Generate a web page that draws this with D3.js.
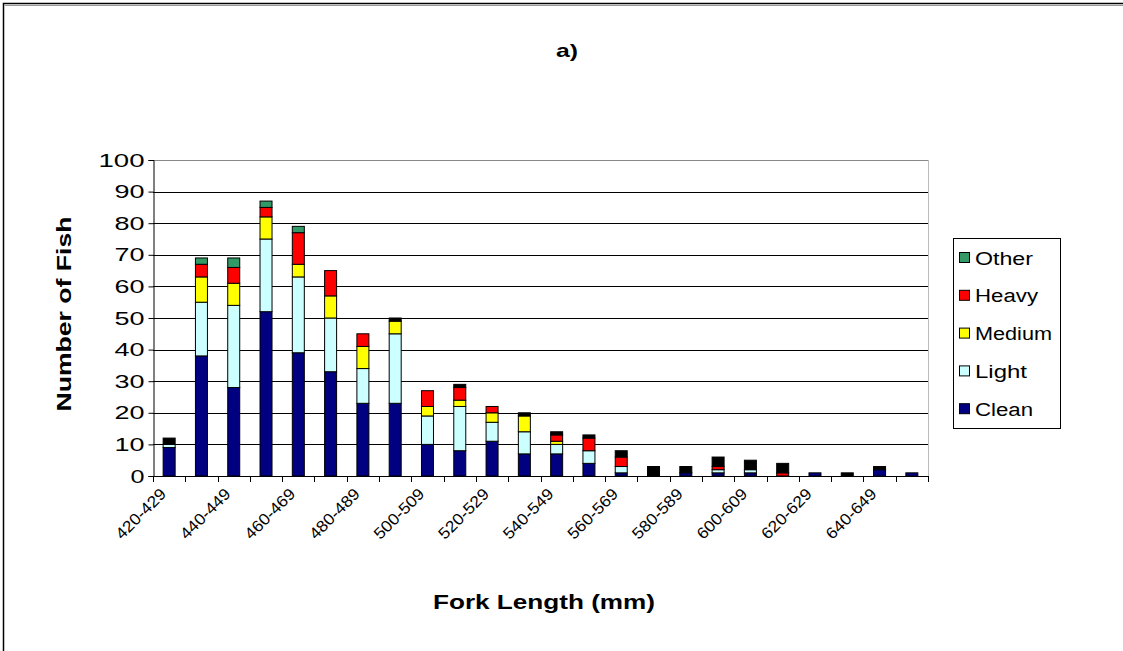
<!DOCTYPE html>
<html>
<head>
<meta charset="utf-8">
<script src="https://cdn.jsdelivr.net/npm/d3@7"></script>
<style>
  html, body { margin: 0; padding: 0; background: #fff; }
  svg { display: block; font-family: Arial, "Liberation Sans", sans-serif; }
</style>
</head>
<body>
<svg id="chart" width="1123" height="651"></svg>
<script>
// ---- Data ----
const categories = ["420-429","430-439","440-449","450-459","460-469","470-479","480-489","490-499",
  "500-509","510-519","520-529","530-539","540-549","550-559","560-569","570-579","580-589",
  "590-599","600-609","610-619","620-629","630-639","640-649","650-659"];
const clean      = [9, 38, 28, 52, 39, 33, 23, 23, 10, 8, 11, 7, 7, 4, 1, 0, 1, 1, 1, 0, 1, 0, 2, 1];
const light      = [1, 17, 26, 23, 24, 17, 11, 22, 9, 14, 6, 7, 3, 4, 2, 0, 0, 1, 1, 0, 0, 0, 0, 0];
const medium     = [0, 8, 7, 7, 4, 7, 7, 4, 3, 2, 3, 5, 1, 0, 0, 0, 0, 0, 0, 0, 0, 0, 0, 0];
const heavy      = [0, 4, 5, 3, 10, 8, 4, 0, 5, 4, 2, 0, 2, 4, 3, 0, 0, 1, 0, 1, 0, 0, 0, 0];
const other      = [0, 2, 3, 2, 2, 0, 0, 0, 0, 0, 0, 0, 0, 0, 0, 0, 0, 0, 0, 0, 0, 0, 0, 0];
const unrecorded = [2, 0, 0, 0, 0, 0, 0, 1, 0, 1, 0, 1, 1, 1, 2, 3, 2, 3, 3, 3, 0, 1, 1, 0];
const yTicks = [0,10,20,30,40,50,60,70,80,90,100];
const legendOrder = ["Other","Heavy","Medium","Light","Clean"];

const seriesKeys = ["Clean","Light","Medium","Heavy","Other","Unrecorded"];
const colors = {Clean:"#000080", Light:"#CCFFFF", Medium:"#FFFF00", Heavy:"#FF0000", Other:"#339966", Unrecorded:"#000000"};
const table = categories.map((c,i) => ({cat:c, Clean:clean[i], Light:light[i], Medium:medium[i], Heavy:heavy[i], Other:other[i], Unrecorded:unrecorded[i]}));

(function(){
const svg = d3.select("#chart");

// outer frame
svg.append("rect").attr("x",3.5).attr("y",3.5).attr("width",1140).attr("height",660)
  .attr("fill","none").attr("stroke","#000").attr("stroke-width",1.5);
svg.append("line").attr("x1",5).attr("x2",1123).attr("y1",5.5).attr("y2",5.5).attr("stroke","#999");

const pL = 153, pR = 928, pT = 160, pB = 476;
const x = d3.scaleBand().domain(categories).range([pL, pR]).padding(0);
const y = d3.scaleLinear().domain([0,100]).range([pB, pT]);
const barW = 12;

// gridlines
svg.append("g").selectAll("line").data(yTicks.filter(t => t>0)).join("line")
  .attr("x1", pL).attr("x2", pR)
  .attr("y1", d => Math.round(y(d))+0.5).attr("y2", d => Math.round(y(d))+0.5)
  .attr("stroke", d => d===100 ? "#888" : "#000").attr("stroke-width",1);
svg.append("line").attr("x1",pR+0.5).attr("x2",pR+0.5).attr("y1",pT).attr("y2",pB)
  .attr("stroke","#bbb");

// bars
const stack = d3.stack().keys(seriesKeys)(table);
svg.append("g").selectAll("g").data(stack).join("g")
  .attr("fill", d => colors[d.key])
  .selectAll("rect").data(d => d.filter(p => p[1]-p[0] > 0)).join("rect")
  .attr("x", d => x(d.data.cat) + x.bandwidth()/2 - barW/2)
  .attr("width", barW)
  .attr("y", d => y(d[1]))
  .attr("height", d => y(d[0]) - y(d[1]))
  .attr("stroke","#000").attr("stroke-width",1);

// y axis
const yAxis = d3.axisLeft(y).tickValues(yTicks).tickSize(5).tickPadding(4);
const gy = svg.append("g").attr("transform",`translate(${pL+0.5},0)`).call(yAxis);
gy.select(".domain").attr("stroke","#000");
gy.selectAll(".tick line").attr("stroke","#000");
gy.selectAll(".tick text").attr("font-size",19).attr("fill","#000")
  .attr("font-family","Arial, 'Liberation Sans', sans-serif")
  .attr("textLength", d => String(d).length*16 - 2).attr("lengthAdjust","spacingAndGlyphs");

// x axis line + ticks at boundaries
svg.append("line").attr("x1",pL).attr("x2",pR).attr("y1",pB+0.5).attr("y2",pB+0.5).attr("stroke","#000");
const bounds = categories.map(c => x(c)).concat([x(categories[categories.length-1]) + x.bandwidth()]);
svg.append("g").selectAll("line").data(bounds).join("line")
  .attr("x1", d => Math.round(d)+0.5).attr("x2", d => Math.round(d)+0.5)
  .attr("y1", pB).attr("y2", pB+6).attr("stroke","#000");

// x labels every other category
svg.append("g").selectAll("text").data(categories.filter((c,i) => i%2===0)).join("text")
  .attr("transform", d => `translate(${x(d)+x.bandwidth()/2-2},${pB+19}) rotate(-45)`)
  .attr("text-anchor","end").attr("font-size",16).attr("fill","#000")
  .attr("textLength",64).attr("lengthAdjust","spacingAndGlyphs")
  .text(d => d);

// titles
svg.append("text").attr("x",567).attr("y",57).attr("text-anchor","middle")
  .attr("font-size",19).attr("font-weight","bold")
  .attr("textLength",22).attr("lengthAdjust","spacingAndGlyphs").text("a)");
svg.append("text").attr("x",544).attr("y",609).attr("text-anchor","middle")
  .attr("font-size",20).attr("font-weight","bold")
  .attr("textLength",222).attr("lengthAdjust","spacingAndGlyphs").text("Fork Length (mm)");
svg.append("text").attr("transform",`translate(71,${(pT+pB)/2 - 4}) rotate(-90)`)
  .attr("text-anchor","middle").attr("font-size",21).attr("font-weight","bold")
  .attr("textLength",195).attr("lengthAdjust","spacingAndGlyphs").text("Number of Fish");

// legend
const lg = svg.append("g");
lg.append("rect").attr("x",953.5).attr("y",238.5).attr("width",107).attr("height",190)
  .attr("fill","#fff").attr("stroke","#000");
const legendLen = {Other:58, Heavy:63, Medium:77, Light:52, Clean:58};
const items = lg.selectAll("g").data(legendOrder).join("g")
  .attr("transform",(d,i) => `translate(959,${258 + i*37.8})`);
items.append("rect").attr("x",0.5).attr("y",-5.5).attr("width",10).attr("height",10)
  .attr("fill", d => colors[d]).attr("stroke","#000");
items.append("text").attr("x",16).attr("y",6.5).attr("font-size",18).attr("fill","#000")
  .attr("textLength", d => legendLen[d]).attr("lengthAdjust","spacingAndGlyphs").text(d => d);
})();
</script>
</body>
</html>
